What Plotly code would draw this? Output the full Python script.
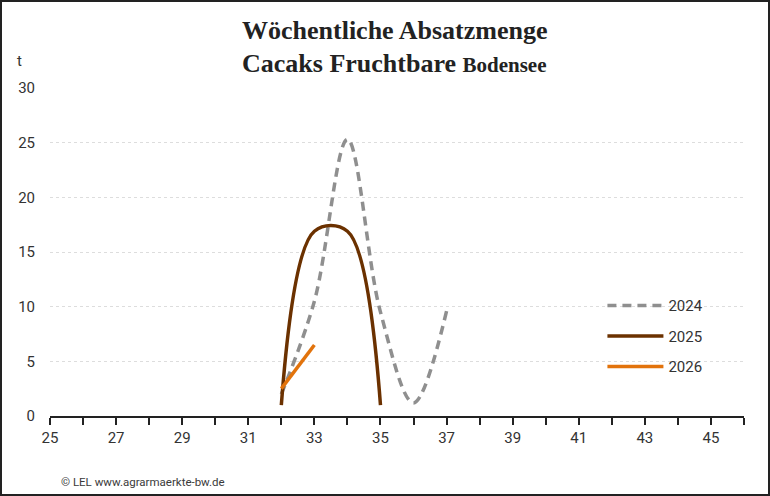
import plotly.graph_objects as go

# Kalenderwochen und Absatzmengen (t)
wochen_2024 = [32, 33, 34, 35, 36, 37]
menge_2024 = [2.0, 10.5, 25.3, 9.5, 1.2, 9.6]

wochen_2025 = [32, 33, 34, 35]
menge_2025 = [1.0, 16.9, 16.9, 1.0]

wochen_2026 = [32, 33]
menge_2026 = [2.5, 6.5]

x_ticks = list(range(25, 47))
x_labels = [str(w) if w % 2 == 1 else "" for w in x_ticks]

fig = go.Figure()

fig.add_trace(go.Scatter(x=wochen_2024, y=menge_2024, name="2024", mode="lines",
                         line=dict(color="#8f8f8f", width=3.5, dash="9px,6px",
                                   shape="spline", smoothing=1),
                         legendgroup="a"))
fig.add_trace(go.Scatter(x=wochen_2025, y=menge_2025, name="2025", mode="lines",
                         line=dict(color="#6b3100", width=3.5, shape="spline", smoothing=1),
                         legendgroup="b"))
fig.add_trace(go.Scatter(x=wochen_2026, y=menge_2026, name="2026", mode="lines",
                         line=dict(color="#e2730c", width=3.5, shape="spline"),
                         legendgroup="c"))

fig.update_layout(
    width=770, height=496,
    margin=dict(l=50, r=26, t=88, b=80),
    paper_bgcolor="white",
    plot_bgcolor="white",
    font=dict(family="Roboto", size=15, color="#333333"),
    showlegend=True,
    legend=dict(x=0.796, y=0.243, xanchor="left", yanchor="middle",
                traceorder="grouped", tracegroupgap=8, itemwidth=56,
                font=dict(size=15, color="#333333"), bgcolor="rgba(0,0,0,0)"),
    xaxis=dict(range=[25, 46], tickmode="array", tickvals=x_ticks, ticktext=x_labels,
               showgrid=False, zeroline=False, showline=True, linecolor="#222222", linewidth=2,
               ticks="outside", ticklen=7, tickwidth=2, tickcolor="#222222", fixedrange=True),
    yaxis=dict(range=[0, 30], dtick=5, showgrid=True, gridcolor="#dddddd", griddash="dot",
               gridwidth=1, zeroline=False, showline=False, ticks="", ticklabelstandoff=14,
               fixedrange=True),
)

# Titel (zwei Zeilen)
titel_font = dict(family="Liberation Serif", size=26, color="#222222")
fig.add_annotation(text="<b>Wöchentliche Absatzmenge</b>", xref="paper", yref="paper",
                   x=0.4957, y=(416 - 30) / 328, yanchor="middle", showarrow=False, font=titel_font)
fig.add_annotation(text="<b>Cacaks Fruchtbare <span style='font-size:21px'>Bodensee</span></b>",
                   xref="paper", yref="paper", x=0.4957, y=(416 - 64) / 328, yanchor="middle",
                   showarrow=False, font=titel_font)

# Einheit
fig.add_annotation(text="t", xref="paper", yref="paper", x=-0.05, y=1.115,
                   showarrow=False, font=dict(size=15, color="#333333"))

# Quelle
fig.add_annotation(text="© LEL www.agrarmaerkte-bw.de", xref="paper", yref="paper",
                   x=(59 - 50) / 694, y=(416 - 482) / 328, xanchor="left", yanchor="middle",
                   showarrow=False, font=dict(size=11.5, color="#3a3a3a"))

# Rahmen um die ganze Grafik
fig.add_shape(type="rect", xref="paper", yref="paper",
              x0=(1 - 50) / 694, x1=(769 - 50) / 694, y0=(416 - 495) / 328, y1=(416 - 1) / 328,
              line=dict(color="#222222", width=2))

fig.write_html("out.html", config={"displayModeBar": False},
               post_script="document.body.style.margin='0';")
